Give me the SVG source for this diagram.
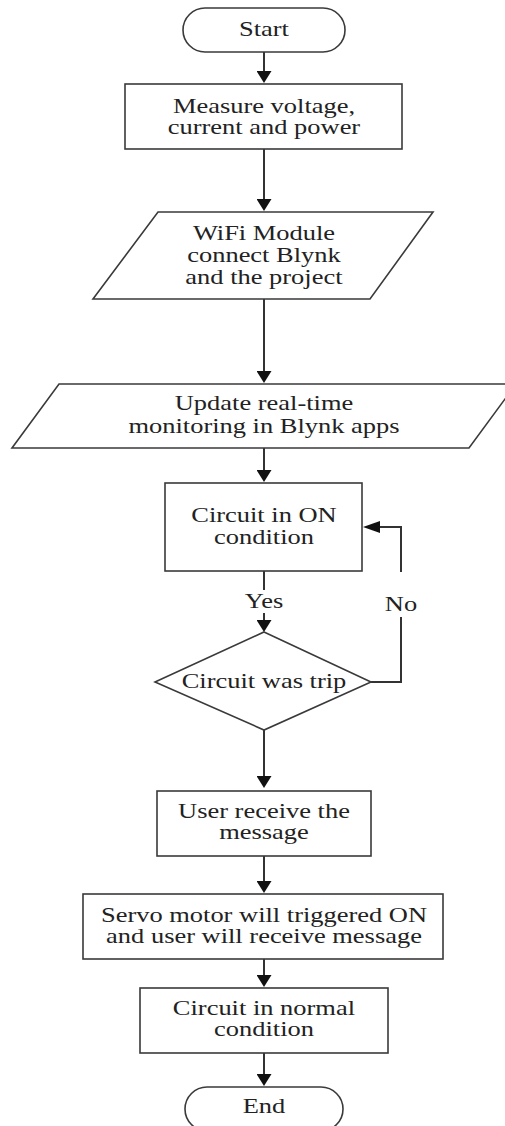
<svg xmlns="http://www.w3.org/2000/svg" width="505" height="1126" viewBox="0 0 505 1126">
<style>
.bg{fill:#fff}
.shape{fill:#fff;stroke:#3a3a3a;stroke-width:1.6}
.conn{fill:none;stroke:#333;stroke-width:2}
.lbl{font-family:"Liberation Serif","Times New Roman",serif;font-size:21px;fill:#222;text-anchor:middle;transform:scaleX(1.26);transform-box:fill-box;transform-origin:center}
</style>
<defs>
<marker id="av" viewBox="0 0 12 15" markerWidth="12" markerHeight="15" refX="9" refY="7.5" orient="auto" markerUnits="userSpaceOnUse"><path d="M0,0 L12,7.5 L0,15 Z" fill="#111"/></marker>
<marker id="ah" viewBox="0 0 17 12" markerWidth="17" markerHeight="12" refX="14" refY="6" orient="auto" markerUnits="userSpaceOnUse"><path d="M0,0 L17,6 L0,12 Z" fill="#111"/></marker>
</defs>
<rect class="bg" x="0" y="0" width="505" height="1126"/>
<g id="connectors">
<line class="conn" x1="264" y1="52" x2="264" y2="80" marker-end="url(#av)"/>
<line class="conn" x1="264" y1="149" x2="264" y2="208" marker-end="url(#av)"/>
<line class="conn" x1="264" y1="299" x2="264" y2="380" marker-end="url(#av)"/>
<line class="conn" x1="264" y1="448" x2="264" y2="479" marker-end="url(#av)"/>
<line class="conn" x1="264" y1="571" x2="264" y2="590"/>
<line class="conn" x1="264" y1="613" x2="264" y2="629" marker-end="url(#av)"/>
<text class="lbl" x="264" y="608">Yes</text>
<polyline class="conn" points="371,682 401,682 401,617"/>
<polyline class="conn" points="401,572 401,527 366,527" marker-end="url(#ah)"/>
<text class="lbl" x="401" y="611">No</text>
<line class="conn" x1="264" y1="730" x2="264" y2="785" marker-end="url(#av)"/>
<line class="conn" x1="264" y1="856" x2="264" y2="890" marker-end="url(#av)"/>
<line class="conn" x1="264" y1="959" x2="264" y2="984" marker-end="url(#av)"/>
<line class="conn" x1="264" y1="1053" x2="264" y2="1083" marker-end="url(#av)"/>
</g>
<g id="start">
<rect class="shape" x="183" y="8" width="162" height="44" rx="22"/>
<text class="lbl" x="264" y="36">Start</text>
</g>
<g id="measure">
<rect class="shape" x="125" y="84" width="277" height="65"/>
<text class="lbl" x="264" y="113">Measure voltage,</text>
<text class="lbl" x="264" y="134">current and power</text>
</g>
<g id="wifi">
<polygon class="shape" points="158,212 433,212 370,299 93,299"/>
<text class="lbl" x="264" y="240">WiFi Module</text>
<text class="lbl" x="264" y="262">connect Blynk</text>
<text class="lbl" x="264" y="284">and the project</text>
</g>
<g id="update">
<polygon class="shape" points="59,384 516,384 469,448 12,448"/>
<text class="lbl" x="264" y="410">Update real-time</text>
<text class="lbl" x="264" y="433">monitoring in Blynk apps</text>
</g>
<g id="circuit-on">
<rect class="shape" x="165" y="483" width="197" height="88"/>
<text class="lbl" x="264" y="522">Circuit in ON</text>
<text class="lbl" x="264" y="544">condition</text>
</g>
<g id="trip">
<polygon class="shape" points="264,632 371,682 264,730 155,682"/>
<text class="lbl" x="264" y="688">Circuit was trip</text>
</g>
<g id="user">
<rect class="shape" x="157" y="791" width="214" height="65"/>
<text class="lbl" x="264" y="818">User receive the</text>
<text class="lbl" x="264" y="839">message</text>
</g>
<g id="servo">
<rect class="shape" x="83" y="894" width="360" height="65"/>
<text class="lbl" x="264" y="922">Servo motor will triggered ON</text>
<text class="lbl" x="264" y="943">and user will receive message</text>
</g>
<g id="normal">
<rect class="shape" x="140" y="988" width="248" height="65"/>
<text class="lbl" x="264" y="1015">Circuit in normal</text>
<text class="lbl" x="264" y="1036">condition</text>
</g>
<g id="end">
<rect class="shape" x="185" y="1087" width="158" height="44" rx="22"/>
<text class="lbl" x="264" y="1113">End</text>
</g>
</svg>
